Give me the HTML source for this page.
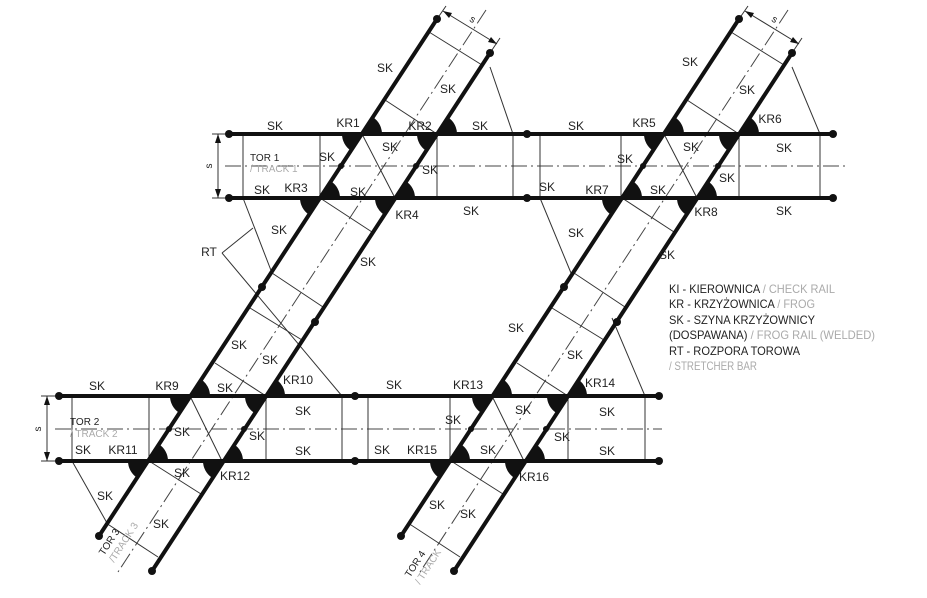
<!DOCTYPE html>
<html><head><meta charset="utf-8"><style>
html,body{margin:0;padding:0;background:#fff}
svg{display:block}
text{font-family:"Liberation Sans","DejaVu Sans",sans-serif;font-size:12px;fill:#222}
.g{fill:#aaa}
.t{font-size:10px}
</style></head><body>
<svg width="927" height="598" viewBox="0 0 927 598" xmlns="http://www.w3.org/2000/svg">
<defs>
<g id="f"><path d="M0 0 L20 0 A20 20 0 0 0 11 -16.7 Z M0 0 L-20 0 A20 20 0 0 0 -11 16.7 Z" fill="#111"/></g>
<g id="ad"><path d="M0 0 L-3 7 L3 7 Z" fill="#111"/></g>
</defs>

<!-- center lines -->
<g stroke="#444" stroke-width="1" stroke-dasharray="16 4 2 4" fill="none">
<line x1="225" y1="166" x2="845" y2="166"/>
<line x1="55" y1="429" x2="662" y2="429"/>
<line x1="486" y1="10" x2="118" y2="572"/>
<line x1="788" y1="10" x2="420" y2="572"/>
</g>

<!-- thin lines -->
<g stroke="#333" stroke-width="1" fill="none">
<!-- track1 verticals -->
<path d="M243 134V198M320 134V198M437 134V198M513 134V198M540 134V198M621 134V198M739 134V198M820 134V198"/>
<!-- track2 verticals -->
<path d="M72 396V461M149 396V461M266 396V461M342 396V461M368 396V461M450 396V461M568 396V461M645 396V461"/>
<!-- rhombus diagonals -->
<path d="M362 134L395 198M190 396L222 461M664 134L697 198M492 396L524 461"/>
<!-- track3 perps -->
<path d="M429 32L482 65M385 100L437 134M320 198L372 232M272 273L323 307M250 308L302 340M215 363L266 396M149 461L201 494M106 523L158 557"/>
<!-- track4 perps -->
<path d="M731 32L784 65M687 100L739 134M622 198L674 232M574 273L625 307M552 308L604 340M517 363L568 396M451 461L503 494M408 523L460 557"/>
<!-- triangle / stretcher lines -->
<path d="M490 67L513 134M792 67L820 134M243 198L272 273M540 198L571 273M222 253L342 396M222 253L253 228M612 318L645 396M72 461L107 523"/>
<!-- dims -->
<path d="M218 134V198M212 134H228M212 198H228"/>
<path d="M47 396V461M41 396H57M41 461H57"/>
<path d="M443 11L497 44M437 19L446 6M490 53L500 38"/>
<path d="M745 11L799 44M739 19L748 6M792 53L802 38"/>
</g>
<!-- dim arrows -->
<g fill="#111">
<path d="M218 134L215 143L221 143Z M218 198L215 189L221 189Z"/>
<path d="M47 396L44 405L50 405Z M47 461L44 452L50 452Z"/>
<path d="M443 11L449 18L452 13Z M497 44L488 42L491 37Z"/>
<path d="M745 11L751 18L754 13Z M799 44L790 42L793 37Z"/>
</g>

<!-- rails -->
<g stroke="#111" stroke-width="4" fill="none" stroke-linecap="round">
<line x1="229" y1="134" x2="833" y2="134"/>
<line x1="229" y1="198" x2="833" y2="198"/>
<line x1="59" y1="396" x2="659" y2="396"/>
<line x1="59" y1="461" x2="659" y2="461"/>
<line x1="437" y1="19" x2="99" y2="536"/>
<line x1="490" y1="53" x2="152" y2="571"/>
<line x1="739" y1="19" x2="401" y2="536"/>
<line x1="792" y1="53" x2="454" y2="571"/>
</g>

<!-- dots -->
<g fill="#111">
<circle cx="229" cy="134" r="4"/><circle cx="229" cy="198" r="4"/>
<circle cx="527" cy="134" r="4"/><circle cx="527" cy="198" r="4"/>
<circle cx="833" cy="134" r="4"/><circle cx="833" cy="198" r="4"/>
<circle cx="59" cy="396" r="4"/><circle cx="59" cy="461" r="4"/>
<circle cx="355" cy="396" r="4"/><circle cx="355" cy="461" r="4"/>
<circle cx="659" cy="396" r="4"/><circle cx="659" cy="461" r="4"/>
<circle cx="437" cy="19" r="4"/><circle cx="490" cy="53" r="4"/>
<circle cx="99" cy="536" r="4"/><circle cx="152" cy="571" r="4"/>
<circle cx="739" cy="19" r="4"/><circle cx="792" cy="53" r="4"/>
<circle cx="401" cy="536" r="4"/><circle cx="454" cy="571" r="4"/>
<circle cx="262" cy="287" r="4"/><circle cx="315" cy="322" r="4"/>
<circle cx="564" cy="287" r="4"/><circle cx="617" cy="322" r="4"/>
<circle cx="341" cy="166" r="3"/><circle cx="416" cy="166" r="3"/>
<circle cx="643" cy="166" r="3"/><circle cx="718" cy="166" r="3"/>
<circle cx="169" cy="429" r="3"/><circle cx="244" cy="429" r="3"/>
<circle cx="471" cy="429" r="3"/><circle cx="546" cy="429" r="3"/>
</g>

<!-- frogs -->
<use href="#f" x="362" y="134"/><use href="#f" x="437" y="134"/>
<use href="#f" x="320" y="198"/><use href="#f" x="395" y="198"/>
<use href="#f" x="664" y="134"/><use href="#f" x="739" y="134"/>
<use href="#f" x="622" y="198"/><use href="#f" x="697" y="198"/>
<use href="#f" x="190" y="396"/><use href="#f" x="265" y="396"/>
<use href="#f" x="148" y="461"/><use href="#f" x="223" y="461"/>
<use href="#f" x="492" y="396"/><use href="#f" x="567" y="396"/>
<use href="#f" x="450" y="461"/><use href="#f" x="525" y="461"/>

<!-- labels -->
<g text-anchor="middle">
<text x="275" y="130">SK</text><text x="348" y="127">KR1</text><text x="420" y="130">KR2</text><text x="480" y="130">SK</text>
<text x="576" y="130">SK</text><text x="644" y="127">KR5</text><text x="770" y="123">KR6</text>
<text x="327" y="161">SK</text><text x="390" y="151">SK</text><text x="430" y="174">SK</text><text x="358" y="196">SK</text>
<text x="262" y="194">SK</text><text x="296" y="192">KR3</text><text x="407" y="219">KR4</text><text x="471" y="215">SK</text>
<text x="385" y="72">SK</text><text x="448" y="93">SK</text>
<text x="625" y="163">SK</text><text x="691" y="151">SK</text><text x="727" y="182">SK</text><text x="658" y="194">SK</text>
<text x="547" y="191">SK</text><text x="597" y="194">KR7</text><text x="706" y="216">KR8</text>
<text x="784" y="152">SK</text><text x="784" y="215">SK</text>
<text x="690" y="66">SK</text><text x="747" y="94">SK</text>
<text x="279" y="234">SK</text><text x="368" y="266">SK</text><text x="209" y="256">RT</text>
<text x="239" y="349">SK</text><text x="270" y="364">SK</text>
<text x="576" y="237">SK</text><text x="667" y="259">SK</text><text x="516" y="332">SK</text><text x="575" y="359">SK</text>
<text x="97" y="390">SK</text><text x="167" y="390">KR9</text><text x="225" y="392">SK</text><text x="298" y="384">KR10</text>
<text x="182" y="436">SK</text><text x="257" y="440">SK</text><text x="303" y="415">SK</text><text x="303" y="455">SK</text>
<text x="83" y="454">SK</text><text x="123" y="454">KR11</text><text x="182" y="477">SK</text><text x="235" y="480">KR12</text>
<text x="105" y="500">SK</text><text x="161" y="528">SK</text>
<text x="394" y="389">SK</text><text x="468" y="389">KR13</text><text x="600" y="387">KR14</text>
<text x="523" y="414">SK</text><text x="453" y="424">SK</text><text x="562" y="441">SK</text><text x="607" y="416">SK</text>
<text x="382" y="454">SK</text><text x="422" y="454">KR15</text><text x="488" y="454">SK</text><text x="534" y="481">KR16</text><text x="607" y="455">SK</text>
<text x="437" y="509">SK</text><text x="468" y="518">SK</text>
</g>
<text x="250" y="161" class="t">TOR 1</text><text x="250" y="172" class="t g">/ TRACK 1</text>
<text x="70" y="425" class="t">TOR 2</text><text x="70" y="437" class="t g">/ TRACK 2</text>
<text transform="translate(212,166) rotate(-90)" text-anchor="middle" class="t">s</text>
<text transform="translate(41,429) rotate(-90)" text-anchor="middle" class="t">s</text>
<text transform="translate(471,22) rotate(33)" text-anchor="middle" class="t">s</text>
<text transform="translate(773,22) rotate(33)" text-anchor="middle" class="t">s</text>
<text transform="translate(104,556) rotate(-57)" class="t">TOR 3</text>
<text transform="translate(114,563) rotate(-57)" class="t g">/TRACK 3</text>
<text transform="translate(410,578) rotate(-57)" class="t">TOR 4</text>
<text transform="translate(420,585) rotate(-57)" class="t g">/ TRACK</text>

<!-- legend -->
<g font-size="11.5">
<text x="669" y="293" textLength="166" lengthAdjust="spacingAndGlyphs">KI - KIEROWNICA <tspan class="g">/ CHECK RAIL</tspan></text>
<text x="669" y="308" textLength="146" lengthAdjust="spacingAndGlyphs">KR - KRZYŻOWNICA <tspan class="g">/ FROG</tspan></text>
<text x="669" y="324" textLength="146" lengthAdjust="spacingAndGlyphs">SK - SZYNA KRZYŻOWNICY</text>
<text x="669" y="339" textLength="206" lengthAdjust="spacingAndGlyphs">(DOSPAWANA) <tspan class="g">/ FROG RAIL (WELDED)</tspan></text>
<text x="669" y="355" textLength="131" lengthAdjust="spacingAndGlyphs">RT - ROZPORA TOROWA</text>
<text x="669" y="370" textLength="88" lengthAdjust="spacingAndGlyphs" class="g">/ STRETCHER BAR</text>
</g>
</svg>
</body></html>
